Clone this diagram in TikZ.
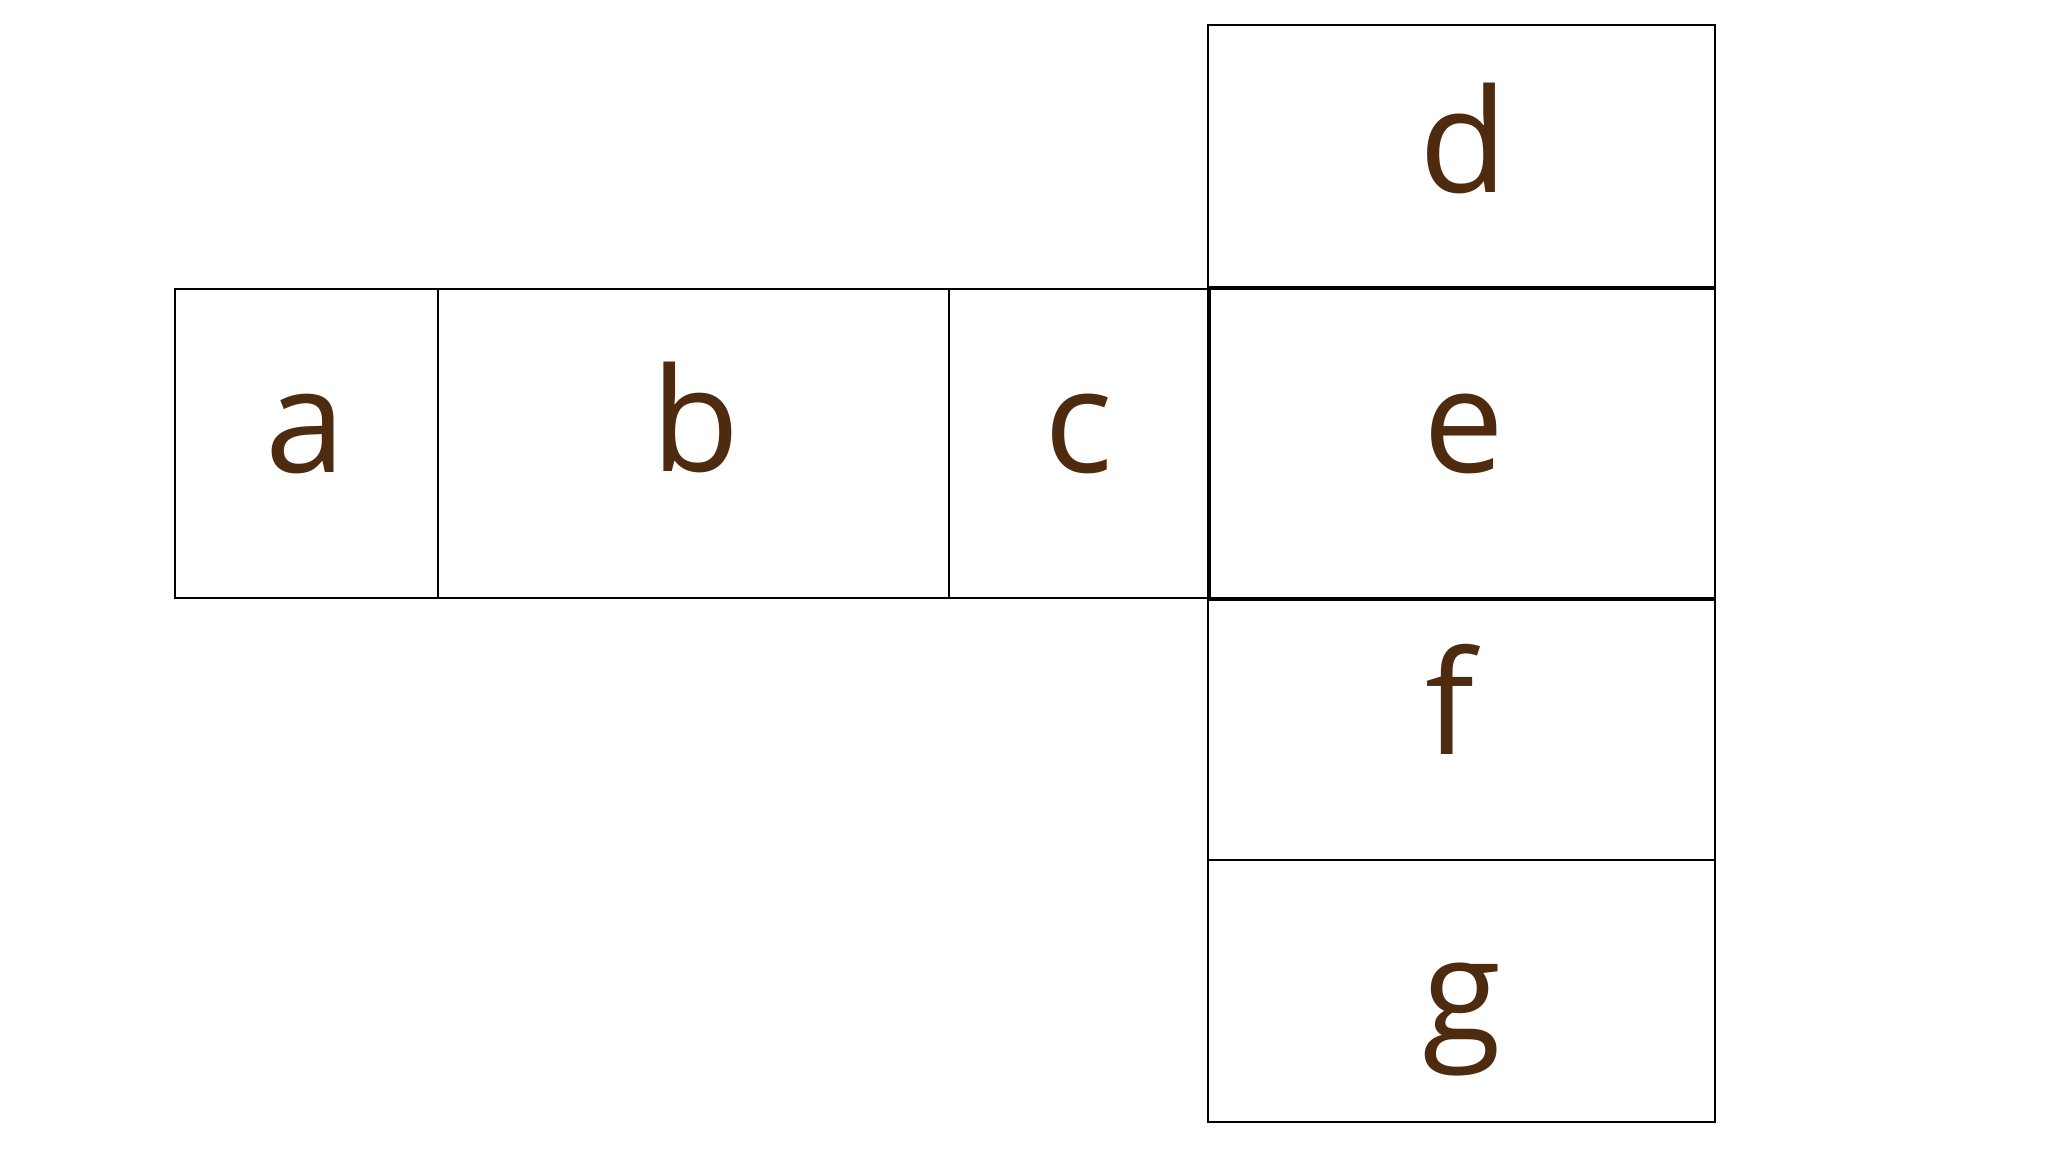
\documentclass[tikz,border=0pt]{standalone}
\usepackage{fontspec}
\setmainfont{Open Sans}
\usetikzlibrary{calc}
\definecolor{netbrown}{HTML}{4E2A0E}

\begin{document}
\begin{tikzpicture}
\useasboundingbox (0,0) rectangle (20.48,11.52);

% corners of the faces
\coordinate (a1) at (1.75, 5.54);
\coordinate (a2) at (4.38, 8.63);
\coordinate (b1) at (4.38, 5.54);
\coordinate (b2) at (9.49, 8.63);
\coordinate (c1) at (9.49, 5.54);
\coordinate (c2) at (12.08, 8.63);
\coordinate (d1) at (12.08, 8.65);
\coordinate (d2) at (17.15, 11.27);
\coordinate (e1) at (12.10, 5.54);
\coordinate (e2) at (17.15, 8.63);
\coordinate (f1) at (12.08, 2.92);
\coordinate (f2) at (17.15, 5.52);
\coordinate (g1) at (12.08, 0.30);
\coordinate (g2) at (17.15, 2.92);

% baselines of the letters
\coordinate (ta) at (3.06, 6.79);
\coordinate (tb) at (6.96, 6.80);
\coordinate (tc) at (10.79, 6.79);
\coordinate (td) at (14.64, 9.59);
\coordinate (te) at (14.64, 6.79);
\coordinate (tf) at (14.50, 3.97);
\coordinate (tg) at (14.62, 1.10);

\newcommand{\netface}[1]{
    \draw[black, line width=0.7pt] (#11) rectangle (#12);
}

\newcommand{\netlabel}[1]{
    \node[anchor=base, inner sep=0pt, text=netbrown,
          font=\fontsize{41}{48}\selectfont] (l#1) at (t#1) {#1};
}

\newcommand{\drawnet}{
    \netface{a}
    \netface{b}
    \netface{c}
    \netface{d}
    \netface{e}
    \netface{f}
    \netface{g}
    \foreach \x in {a,b,c,d,e,f,g} {\netlabel{\x}}
}

    \drawnet
\end{tikzpicture}
\end{document}
